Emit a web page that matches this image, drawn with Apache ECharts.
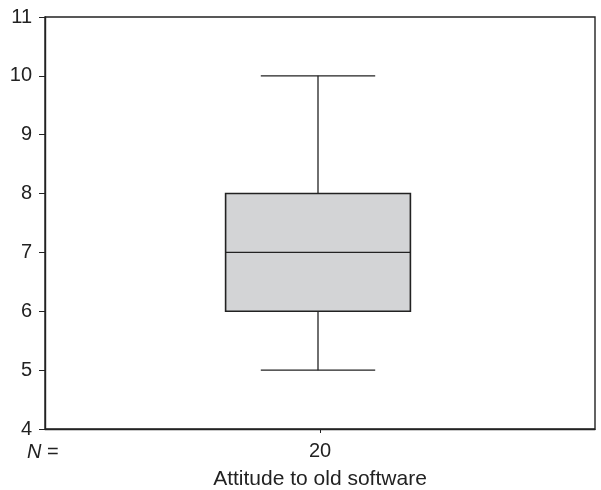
<!DOCTYPE html>
<html>
<head>
<meta charset="utf-8">
<script src="https://cdn.jsdelivr.net/npm/echarts@6/dist/echarts.min.js"></script>
<style>
  html, body { margin: 0; padding: 0; background: #fff; }
  #chart { width: 601px; height: 490px; }
</style>
</head>
<body>
<div id="chart"></div>
<script>
// Category and five-number summary: [min, Q1, median, Q3, max]
const categories = ['20'];
const boxStats = [[5, 6, 7, 8, 10]];
const yTicks = [4, 5, 6, 7, 8, 9, 10, 11];

const FONT = '"Liberation Sans", Arial, sans-serif';
const INK = '#222';
const FS = 20;

const chart = echarts.init(document.getElementById('chart'), null, { renderer: 'canvas' });

function renderBox(params, api) {
  const idx = api.value(0);
  const lo = api.value(1), q1 = api.value(2), med = api.value(3), q3 = api.value(4), hi = api.value(5);
  const band = api.size([1, 0])[0];
  const boxHalf = band * 0.168;
  const capHalf = band * 0.104;
  const pLo = api.coord([idx, lo]);
  const pQ1 = api.coord([idx, q1]);
  const pMed = api.coord([idx, med]);
  const pQ3 = api.coord([idx, q3]);
  const pHi = api.coord([idx, hi]);
  const x = pMed[0] - 2;
  const line = { stroke: INK, lineWidth: 1.3 };
  return {
    type: 'group',
    children: [
      { type: 'line', shape: { x1: x, y1: pHi[1], x2: x, y2: pQ3[1] }, style: line },
      { type: 'line', shape: { x1: x, y1: pQ1[1], x2: x, y2: pLo[1] }, style: line },
      { type: 'line', shape: { x1: x - capHalf, y1: pHi[1], x2: x + capHalf, y2: pHi[1] }, style: line },
      { type: 'line', shape: { x1: x - capHalf, y1: pLo[1], x2: x + capHalf, y2: pLo[1] }, style: line },
      { type: 'rect', shape: { x: x - boxHalf, y: pQ3[1], width: boxHalf * 2, height: pQ1[1] - pQ3[1] },
        style: { fill: '#d3d4d6', stroke: INK, lineWidth: 1.6 } },
      { type: 'line', shape: { x1: x - boxHalf, y1: pMed[1], x2: x + boxHalf, y2: pMed[1] }, style: line }
    ]
  };
}

chart.setOption({
  animation: false,
  backgroundColor: '#fff',
  grid: {
    left: 45, right: 6, top: 17, bottom: 61,
    outerBoundsMode: 'none',
    containLabel: false,
    show: true, borderColor: INK, borderWidth: 1.4, backgroundColor: 'transparent'
  },
  xAxis: {
    type: 'category',
    data: categories,
    name: 'Attitude to old software',
    nameLocation: 'middle',
    nameGap: 40,
    nameTextStyle: { fontFamily: FONT, fontSize: 21, color: INK },
    axisLine: { show: true, lineStyle: { color: INK, width: 1.4 } },
    axisTick: { show: true, alignWithLabel: true, length: 4, lineStyle: { color: INK } },
    axisLabel: { fontFamily: FONT, fontSize: FS, color: INK, margin: 12 },
    splitLine: { show: false }
  },
  yAxis: {
    type: 'value',
    min: yTicks[0],
    max: yTicks[yTicks.length - 1],
    interval: 1,
    axisLine: { show: true, lineStyle: { color: INK, width: 1.4 } },
    axisTick: { show: true, length: 6, lineStyle: { color: INK } },
    axisLabel: { fontFamily: FONT, fontSize: FS, color: INK, margin: 13 },
    splitLine: { show: false }
  },
  graphic: [{
    type: 'text',
    left: 27,
    top: 442,
    style: {
      text: '{n|N} =',
      rich: { n: { fontFamily: FONT, fontSize: FS, fontStyle: 'italic', fill: INK } },
      font: FS + 'px "Liberation Sans", Arial, sans-serif',
      fill: INK
    }
  }],
  series: [{
    type: 'custom',
    renderItem: renderBox,
    encode: { x: 0, y: [1, 2, 3, 4, 5] },
    data: boxStats.map((s, i) => [i].concat(s))
  }]
});
</script>
</body>
</html>
